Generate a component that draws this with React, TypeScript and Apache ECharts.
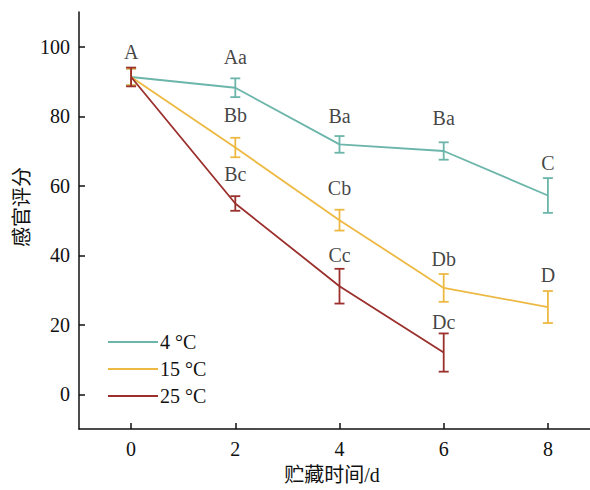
import React, { useEffect, useRef } from "react";
import * as echarts from "echarts";

const days = [0, 2, 4, 6, 8];
const seriesNames = ["4 °C", "15 °C", "25 °C"];
const colors = ["#6BB5AA", "#EDB943", "#9A2F2C"];
const mean4 = [91.3, 88.2, 71.9, 70.0, 57.2];
const err4 = [2.4, 2.7, 2.4, 2.5, 5.0];
const mean15 = [91.3, 71.0, 50.1, 30.6, 25.1];
const err15 = [2.4, 2.8, 3.0, 4.0, 4.6];
const mean25 = [91.3, 54.9, 31.1, 12.0];
const err25 = [2.7, 2.1, 5.0, 5.5];
const yTicks = [0, 20, 40, 60, 80, 100];
const xTicks = [0, 2, 4, 6, 8];
const letterX = [0, 2, 2, 2, 4, 4, 4, 6, 6, 6, 8, 8];
const letterY = [98.6, 97.1, 80.3, 63.5, 80.0, 59.3, 40.0, 79.4, 39.0, 20.8, 66.5, 34.2];
const letterText = ["A", "Aa", "Bb", "Bc", "Ba", "Cb", "Cc", "Ba", "Db", "Dc", "C", "D"];

const FONT = "Liberation Serif";

export default function App() {
  const ref = useRef<HTMLDivElement>(null);
  useEffect(() => {
    if (!ref.current) return;
    const chart = echarts.init(ref.current, null, { renderer: "svg" });
    const means = [mean4, mean15, mean25];
    const errs = [err4, err15, err25];
    const lineSeries = means.map((m, i) => ({
      name: seriesNames[i],
      type: "line",
      data: m.map((v, j) => [days[j], v]),
      symbol: "none",
      lineStyle: { color: colors[i], width: 1.8 },
      itemStyle: { color: colors[i] },
      z: 2 + i,
    }));
    const errSeries = means.map((m, i) => ({
      name: seriesNames[i] + " err",
      type: "custom",
      data: m.map((v, j) => [days[j], v - errs[i][j], v + errs[i][j]]),
      encode: { x: 0, y: [1, 2] },
      z: 2 + i,
      renderItem: (params: any, api: any) => {
        const x = api.value(0);
        const lo = api.coord([x, api.value(1)]);
        const hi = api.coord([x, api.value(2)]);
        const w = 5;
        const st = { stroke: colors[i], lineWidth: 1.8 };
        return {
          type: "group",
          children: [
            { type: "line", shape: { x1: lo[0], y1: lo[1], x2: hi[0], y2: hi[1] }, style: st },
            { type: "line", shape: { x1: lo[0] - w, y1: lo[1], x2: lo[0] + w, y2: lo[1] }, style: st },
            { type: "line", shape: { x1: hi[0] - w, y1: hi[1], x2: hi[0] + w, y2: hi[1] }, style: st },
          ],
        };
      },
    }));
    const labelSeries = {
      type: "scatter",
      symbolSize: 0,
      silent: true,
      data: letterX.map((x, i) => ({ value: [x, letterY[i]], name: letterText[i] })),
      label: {
        show: true,
        position: "inside",
        formatter: (p: any) => p.name,
        color: "#111111",
        fontSize: 20,
        fontFamily: FONT,
      },
      z: 10,
    };
    chart.setOption({
      animation: false,
      backgroundColor: "#ffffff",
      grid: { left: 79, right: -10, top: 12, bottom: 61, outerBoundsMode: "none", containLabel: false },
      legend: {
        data: seriesNames.map((n) => ({ name: n, icon: "rect" })),
        orient: "vertical",
        left: 103,
        top: 327,
        itemWidth: 50,
        itemHeight: 2,
        itemGap: 7,
        textStyle: { fontFamily: FONT, fontSize: 20, color: "#111111", padding: [0, 0, 0, -3] },
      },
      xAxis: {
        type: "value",
        min: -1,
        max: 9,
        axisLine: { onZero: false, lineStyle: { color: "#111111", width: 1.5 } },
        axisTick: { inside: true, length: 6, customValues: xTicks, lineStyle: { color: "#111111", width: 1.5 } },
        axisLabel: { customValues: xTicks, fontFamily: FONT, fontSize: 20, color: "#111111", margin: 10 },
        splitLine: { show: false },
      },
      yAxis: {
        type: "value",
        min: -10,
        max: 110,
        axisLine: { show: true, onZero: false, lineStyle: { color: "#111111", width: 1.5 } },
        axisTick: { show: true, inside: true, length: 6, customValues: yTicks, lineStyle: { color: "#111111", width: 1.5 } },
        axisLabel: { customValues: yTicks, fontFamily: FONT, fontSize: 20, color: "#111111", margin: 9 },
        splitLine: { show: false },
      },
      graphic: [
        {
          type: "text",
          x: 20,
          y: 207,
          rotation: Math.PI / 2,
          style: {
            text: "感官评分",
            fontFamily: "Noto Sans CJK SC",
            fontSize: 20,
            fill: "#111111",
            align: "center",
            verticalAlign: "middle",
          },
        },
        {
          type: "text",
          x: 332,
          y: 475,
          style: {
            text: "贮藏时间/d",
            fontFamily: "Liberation Serif, Noto Sans CJK SC",
            fontSize: 20,
            fill: "#111111",
            align: "center",
            verticalAlign: "middle",
          },
        },
      ],
      series: [...lineSeries, ...errSeries, labelSeries],
    });
    return () => chart.dispose();
  }, []);
  return <div ref={ref} style={{ position: "absolute", left: 0, top: 0, width: 590, height: 490 }} />;
}
